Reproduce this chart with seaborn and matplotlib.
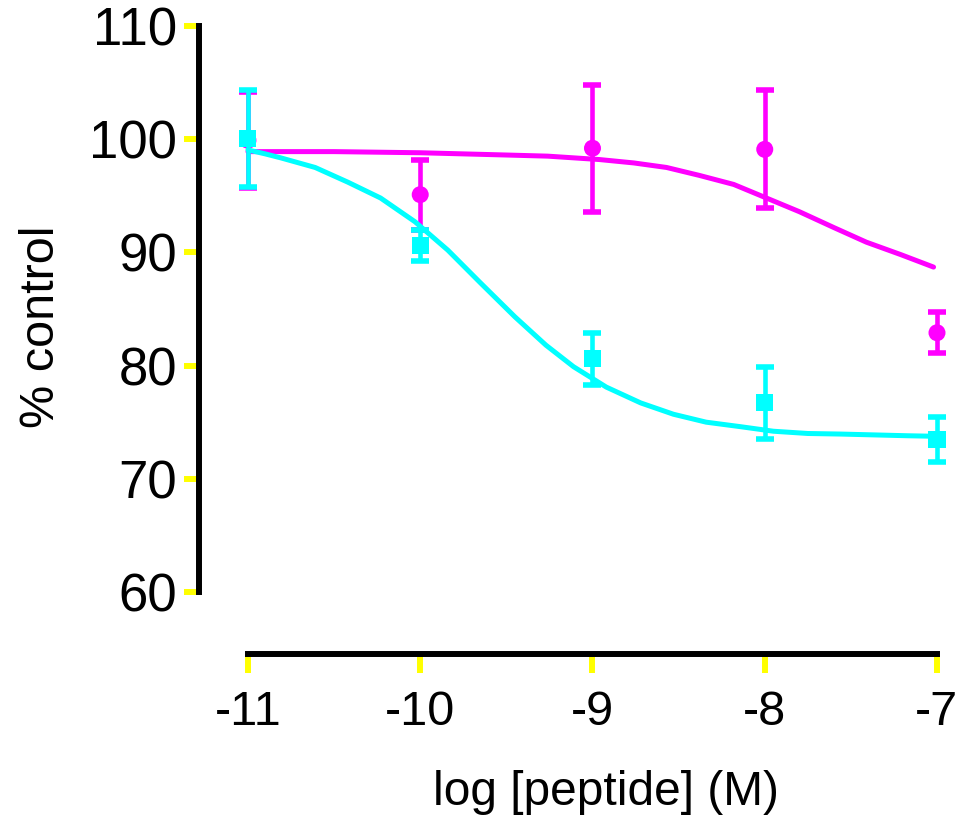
import numpy as np
import pandas as pd
import matplotlib
matplotlib.use("Agg")
import matplotlib.pyplot as plt
import seaborn as sns

# ---- data ----
log_conc = [-11, -10, -9, -8, -7]
cyan_mean = [100.05, 90.6, 80.6, 76.7, 73.5]
cyan_sem = [4.25, 1.4, 2.3, 3.2, 2.0]
magenta_mean = [99.9, 95.1, 99.2, 99.1, 82.9]
magenta_sem = [4.25, 3.1, 5.6, 5.2, 1.8]

cyan_curve_x = [-11, -10.9, -10.81, -10.61, -10.42, -10.23, -10.03, -9.84, -9.65,
                -9.45, -9.27, -9.11, -8.92, -8.72, -8.53, -8.34, -8.14,
                -7.95, -7.75, -7.56, -7.17, -7]
cyan_curve = [99.05, 98.7, 98.35, 97.5, 96.2, 94.8, 92.7, 90.2, 87.3,
              84.3, 81.8, 79.9, 78.1, 76.7, 75.7, 75.0, 74.6,
              74.2, 74.0, 73.95, 73.8, 73.75]
magenta_curve_x = [-11, -10.5, -10, -9.5, -9.26, -8.96, -8.76, -8.57, -8.38,
                   -8.18, -7.99, -7.80, -7.60, -7.41, -7.21, -7.02]
magenta_curve = [98.9, 98.9, 98.8, 98.6, 98.5, 98.2, 97.9, 97.5, 96.8,
                 96.0, 94.8, 93.6, 92.2, 90.9, 89.8, 88.7]

x_ticks = [-11, -10, -9, -8, -7]
y_ticks = [60, 70, 80, 90, 100, 110]

CYAN = "#00FFFF"
MAGENTA = "#FF00FF"
YELLOW = "#FFFF00"

sns.set_theme(style="white")
plt.rcParams["font.family"] = ["Liberation Sans", "DejaVu Sans"]
plt.rcParams["text.color"] = "black"
plt.rcParams["axes.labelcolor"] = "black"
plt.rcParams["xtick.labelcolor"] = "black"
plt.rcParams["ytick.labelcolor"] = "black"

fig = plt.figure(figsize=(9.57, 8.19), dpi=100)
ax = fig.add_axes([0.2591, 0.2772, 0.72, 0.6911])

curves = pd.DataFrame({
    "x": magenta_curve_x + cyan_curve_x,
    "y": magenta_curve + cyan_curve,
    "series": ["magenta"] * len(magenta_curve_x) + ["cyan"] * len(cyan_curve_x),
})
points = pd.DataFrame({
    "x": log_conc * 2,
    "y": magenta_mean + cyan_mean,
    "err": magenta_sem + cyan_sem,
    "series": ["magenta"] * 5 + ["cyan"] * 5,
})

for name, color, marker, z in [("magenta", MAGENTA, "o", 3), ("cyan", CYAN, "s", 4)]:
    c = curves[curves.series == name]
    sns.lineplot(data=c, x="x", y="y", color=color, linewidth=3.6, ax=ax,
                 zorder=z, clip_on=False, legend=False, sort=False)
    p = points[points.series == name]
    ax.errorbar(p["x"], p["y"], yerr=p["err"], fmt="none", ecolor=color,
                elinewidth=3.3, capsize=6.5, capthick=4, zorder=z, clip_on=False)
    sns.scatterplot(data=p, x="x", y="y", color=color, marker=marker, s=150,
                    edgecolor="none", ax=ax, zorder=z + 0.5, clip_on=False,
                    legend=False)

ax.set_xlim(-11, -7)
ax.set_ylim(60, 110)
ax.set_xticks(x_ticks)
ax.set_xticklabels([str(t) for t in x_ticks])
ax.set_yticks(y_ticks)
ax.set_yticklabels([str(t) for t in y_ticks])

for s in ["top", "right"]:
    ax.spines[s].set_visible(False)
ax.spines["left"].set_position(("outward", 35))
ax.spines["bottom"].set_position(("outward", 45))
for s in ["left", "bottom"]:
    ax.spines[s].set_linewidth(4.3)
    ax.spines[s].set_color("black")
    ax.spines[s].set_zorder(5)

ax.tick_params(axis="y", direction="out", length=11, width=4.3, color=YELLOW,
               labelsize=38, pad=5, left=True, labelcolor="black")
ax.tick_params(axis="x", direction="out", length=13.5, width=4.3, color=YELLOW,
               labelsize=35, pad=12, bottom=True, labelcolor="black")

ax.set_xlabel("log [peptide] (M)", fontsize=34.5, labelpad=25, color="black")
ax.set_ylabel("% control", fontsize=35, labelpad=18, color="black")
ax.xaxis.label.set_x(0.519)
ax.yaxis.label.set_y(0.469)
ax.grid(False)
ax.set_facecolor("white")

fig.savefig("out.png", dpi=100, facecolor="white")
